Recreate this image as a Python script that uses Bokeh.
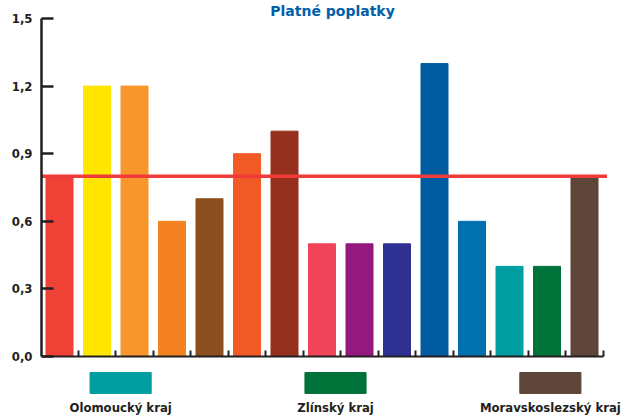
from bokeh.plotting import figure
from bokeh.models import FixedTicker, CustomJSTickFormatter, Range1d
from bokeh.core.properties import value
from bokeh.embed import file_html
from bokeh.resources import INLINE

# ---- data ----
values = [0.8, 1.2, 1.2, 0.6, 0.7, 0.9, 1.0, 0.5, 0.5, 0.5, 1.3, 0.6, 0.4, 0.4, 0.8]
colors = ["#ef4136", "#ffe600", "#f7962b", "#f58220", "#8b4f1f", "#f15a24", "#96301e",
          "#ef4459", "#93197f", "#2e3192", "#005ba1", "#0071ae", "#009ea0", "#00733a", "#5d4539"]
threshold = 0.8
y_ticks = [0.0, 0.3, 0.6, 0.9, 1.2, 1.5]
legend_labels = ["Olomoucký kraj", "Zlínský kraj", "Moravskoslezský kraj"]
legend_colors = ["#009ea0", "#00733a", "#5d4539"]
title_text = "Platné poplatky"

# ---- layout constants ----
FONT = "DejaVu Sans Condensed"
DARK = "#231f20"
n = len(values)
xs = list(range(n))
x_lo, x_hi = -0.48, 15.04
y_lo, y_hi = -0.2707, 1.5
legend_x = [1.63, 7.36, 13.09]

p = figure(width=623, height=417, x_range=Range1d(x_lo, x_hi), y_range=Range1d(y_lo, y_hi),
           output_backend="svg", toolbar_location=None,
           min_border_left=41, min_border_right=0, min_border_top=18, min_border_bottom=0)
p.outline_line_color = None
p.xgrid.visible = False
p.ygrid.visible = False
p.background_fill_color = "white"

p.title.text = title_text
p.title.align = "center"
p.title.offset = -37
p.title.standoff = 0
p.title.text_font = "DejaVu Sans"
p.title.text_font_style = "bold"
p.title.text_font_size = "14px"
p.title.text_color = "#0060a9"

p.vbar(x=xs, top=values, width=0.72, color=colors)
p.line(x=[x_lo, n - 0.4], y=[threshold, threshold], line_color="#ef3b39", line_width=3.5)

# legend-like blocks below the axis
p.rect(x=legend_x, y=-0.1175, width=1.63, height=0.093, color=legend_colors)
p.text(x=legend_x, y=-0.226, text=legend_labels, text_align="center", text_baseline="middle",
       text_font=value(FONT), text_font_style="bold", text_font_size="13px", text_color=DARK)

# y axis
ya = p.yaxis[0]
ya.ticker = FixedTicker(ticks=y_ticks)
ya.formatter = CustomJSTickFormatter(code="return tick.toFixed(1).replace('.', ',');")
ya.bounds = (0, 1.5)
ya.axis_line_width = 2.5
ya.axis_line_color = DARK
ya.major_tick_in = 12
ya.major_tick_out = 0
ya.major_tick_line_width = 2.5
ya.major_tick_line_color = DARK
ya.minor_tick_line_color = None
ya.major_label_standoff = 9
ya.major_label_text_font = FONT
ya.major_label_text_font_style = "bold"
ya.major_label_text_font_size = "13px"
ya.major_label_text_color = DARK

# x axis at y = 0
xa = p.xaxis[0]
xa.fixed_location = 0
xa.ticker = FixedTicker(ticks=[i + 0.5 for i in xs])
xa.bounds = (x_lo, n - 0.5)
xa.axis_line_width = 2
xa.axis_line_color = DARK
xa.major_tick_in = 6
xa.major_tick_out = 0
xa.major_tick_line_width = 2
xa.major_tick_line_color = DARK
xa.minor_tick_line_color = None
xa.major_label_text_font_size = "0px"
xa.major_label_text_color = None

open("out.html", "w").write(file_html(p, INLINE))
